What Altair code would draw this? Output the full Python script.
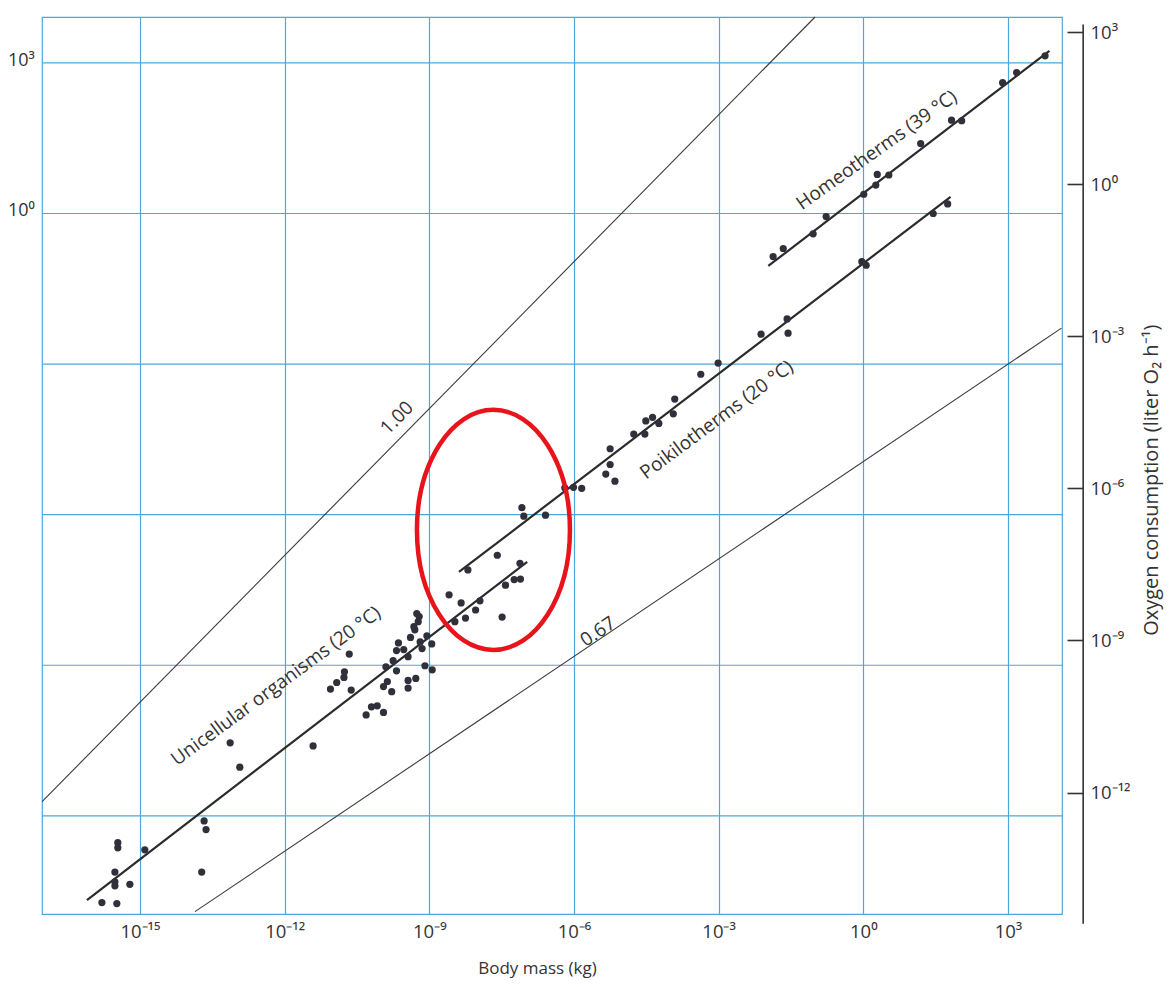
import altair as alt
import pandas as pd

# ---------------- axis ticks (log10 units) ----------------
x_ticks = [-15, -12, -9, -6, -3, 0, 3]
x_tick_labels = ["10⁻¹⁵", "10⁻¹²", "10⁻⁹", "10⁻⁶", "10⁻³", "10⁰", "10³"]
y_ticks = [-12, -9, -6, -3, 0, 3]
y_tick_labels = ["10⁻¹²", "10⁻⁹", "10⁻⁶", "10⁻³", "10⁰", "10³"]

# printed horizontal grid (offset from right-hand scale in the original)
grid_y = [2.39, -0.58, -3.55, -6.52, -9.49, -12.46]
left_labels = ["10³", "10⁰"]
left_label_y = [2.43, -0.53]

# ---------------- observations (log10 kg, log10 liter O2/h) ----------------
uni_mass = [-15.79, -15.48, -15.52, -15.52, -15.52, -15.21, -15.46, -15.46, -14.90, -13.72,
            -13.67, -13.63, -13.13, -12.93, -11.41, -10.66, -10.76, -10.77, -10.92, -11.05,
            -10.62, -9.90, -9.75, -9.68, -9.64, -9.53, -9.44, -9.68, -9.87, -9.95,
            -9.78, -9.44, -9.28, -9.44, -9.26, -9.21, -9.30, -9.39, -9.19, -9.05,
            -9.15, -8.95, -9.09, -8.94, -10.20, -10.08, -10.31, -9.95, -9.23, -9.32,
            -8.59, -8.34, -7.95, -8.04, -8.25, -8.47, -7.42, -7.24, -7.11, -7.12,
            -7.49, -7.59]
uni_o2 = [-14.17, -14.19, -13.57, -13.76, -13.84, -13.81, -12.99, -13.09, -13.13, -13.57,
          -12.56, -12.73, -11.02, -11.50, -11.08, -9.27, -9.62, -9.73, -9.83, -9.96,
          -9.98, -9.52, -9.40, -9.20, -9.05, -9.18, -9.32, -9.60, -9.81, -9.91,
          -10.01, -9.79, -9.75, -9.94, -8.47, -8.53, -8.79, -8.94, -9.03, -8.91,
          -9.16, -9.07, -9.50, -9.58, -10.31, -10.29, -10.47, -10.42, -8.63, -8.73,
          -8.10, -8.26, -8.22, -8.40, -8.56, -8.63, -7.91, -7.80, -7.79, -7.48,
          -8.54, -7.32]

poi_mass = [-8.20, -7.08, -7.04, -6.59, -6.19, -6.01, -5.84, -5.25, -5.25, -5.34,
            -5.15, -4.76, -4.53, -4.51, -4.37, -4.24, -3.94, -3.91, -3.37, -3.01,
            -2.12, -1.58, -1.56, -0.03, 0.06, 1.45, 1.75]
poi_o2 = [-7.61, -6.38, -6.55, -6.53, -5.99, -5.98, -6.00, -5.22, -5.53, -5.72,
          -5.86, -4.93, -4.93, -4.67, -4.60, -4.72, -4.53, -4.24, -3.75, -3.53,
          -2.96, -2.66, -2.94, -1.53, -1.60, -0.58, -0.39]

hom_mass = [-1.87, -1.66, -1.04, -0.77, 0.01, 0.26, 0.29, 0.53, 1.19, 1.83, 2.04, 2.89, 3.18, 3.77]
hom_o2 = [-1.43, -1.27, -0.98, -0.64, -0.20, -0.02, 0.19, 0.18, 0.80, 1.26, 1.25, 2.00, 2.20, 2.53]

# ---------------- fitted regression lines (endpoints) ----------------
fit_names = ["Unicellular", "Unicellular", "Poikilotherms", "Poikilotherms", "Homeotherms", "Homeotherms"]
fit_mass = [-16.10, -6.97, -8.385, 1.81, -1.97, 3.86]
fit_o2 = [-14.12, -7.45, -7.65, -0.25, -1.615, 2.63]

# reference slopes 1.00 and 0.67
ref_names = ["1.00", "1.00", "0.67", "0.67"]
ref_mass = [-17.03, -1.0, -13.86, 4.11]
ref_o2 = [-12.18, 3.296, -14.35, -2.84]

# ---------------- in-plot labels ----------------
lab_text = ["1.00", "0.67", "Unicellular organisms (20 °C)", "Poikilotherms (20 °C)", "Homeotherms (39 °C)"]
lab_mass = [-9.67, -5.50, -12.18, -3.04, 0.28]
lab_o2 = [-4.61, -8.83, -9.90, -4.65, 0.67]
lab_angle = [314.6, 326, 323.7, 323.4, 324.7]

# highlighted region (red ellipse)
ell_mass = [-7.67]
ell_o2 = [-6.82]

# right-hand axis line extent, y-title
axis_line_mass = [4.56]
axis_line_top = [3.15]
axis_line_bottom = [-14.59]
ytitle_text = ["Oxygen consumption (liter O₂ h⁻¹)"]
ytitle_mass = [5.98]
ytitle_o2 = [-5.84]

# ---------------- build ----------------
FONT = "Open Sans"
BLUE = "#4aa8dc"
INK = "#333333"

def label_expr(ticks, labels):
    parts = [f"datum.value == {t} ? '{l}'" for t, l in zip(ticks, labels)]
    return " : ".join(parts) + " : ''"

xscale = alt.Scale(domain=[-17.032, 4.121], nice=False, zero=False)
yscale = alt.Scale(domain=[-14.396, 3.296], nice=False, zero=False)

xaxis = alt.Axis(values=x_ticks, labelExpr=label_expr(x_ticks, x_tick_labels),
                 grid=True, gridColor=BLUE, gridWidth=1.2, gridOpacity=1,
                 ticks=False, domain=False, labelPadding=8, labelFontSize=18.5,
                 labelColor=INK, labelFont=FONT,
                 title="Body mass (kg)", titleFontSize=17, titleFont=FONT,
                 titleFontWeight="normal", titleColor=INK,
                 titleX=495, titleY=54, titleAlign="center", titleBaseline="middle")
yaxis = alt.Axis(orient="right", values=y_ticks, labelExpr=label_expr(y_ticks, y_tick_labels),
                 grid=False, domain=False, ticks=True, tickSize=16, tickWidth=1.6,
                 tickColor=INK, offset=5, labelPadding=7, labelFontSize=18.5,
                 labelColor=INK, labelFont=FONT, labelBaseline="middle", title=None)

def X(f):
    return alt.X(f, type="quantitative", scale=xscale, axis=xaxis)

def Y(f):
    return alt.Y(f, type="quantitative", scale=yscale, axis=yaxis)

grid_df = pd.DataFrame({"gy": grid_y})
hgrid = alt.Chart(grid_df).mark_rule(color=BLUE, strokeWidth=1.2).encode(y=Y("gy"))

ref_df = pd.DataFrame({"name": ref_names, "m": ref_mass, "o": ref_o2})
ref_lines = alt.Chart(ref_df).mark_line(color="#3a3a3a", strokeWidth=1.1).encode(
    x=X("m"), y=Y("o"), detail="name:N")

fit_df = pd.DataFrame({"name": fit_names, "m": fit_mass, "o": fit_o2})
fit_lines = alt.Chart(fit_df).mark_line(color="#2b2b2b", strokeWidth=2.2).encode(
    x=X("m"), y=Y("o"), detail="name:N")

pts_df = pd.DataFrame({
    "m": uni_mass + poi_mass + hom_mass,
    "o": uni_o2 + poi_o2 + hom_o2,
})
points = alt.Chart(pts_df).mark_circle(size=52, color="#30303a", opacity=1).encode(
    x=X("m"), y=Y("o"))

lab_df = pd.DataFrame({"t": lab_text, "m": lab_mass, "o": lab_o2, "a": lab_angle})
labels = alt.Chart(lab_df).mark_text(font=FONT, fontSize=19, color=INK,
                                     align="center", baseline="middle").encode(
    x=X("m"), y=Y("o"), text="t:N", angle=alt.Angle("a:Q", scale=None))

left_df = pd.DataFrame({"t": left_labels, "o": left_label_y, "m": [-17.18] * len(left_labels)})
left_text = alt.Chart(left_df).mark_text(font=FONT, fontSize=18, color=INK,
                                         align="right", baseline="middle").encode(
    x=X("m"), y=Y("o"), text="t:N")

ell_path = ("M 1 0 C 1 0.8666 0.5523 1.569 0 1.569 C -0.5523 1.569 -1 0.8666 -1 0 "
            "C -1 -0.8666 -0.5523 -1.569 0 -1.569 C 0.5523 -1.569 1 -0.8666 1 0 Z")
ell_df = pd.DataFrame({"m": ell_mass, "o": ell_o2})
ellipse = alt.Chart(ell_df).mark_point(shape=ell_path, size=23409, filled=False,
                                       stroke="#e8141c", strokeWidth=4.5, opacity=1).encode(
    x=X("m"), y=Y("o"))

axl_df = pd.DataFrame({"m": axis_line_mass, "top": axis_line_top, "bot": axis_line_bottom})
axis_line = alt.Chart(axl_df).mark_rule(color=INK, strokeWidth=1.6).encode(
    x=X("m"), y=Y("top"), y2="bot")

yt_df = pd.DataFrame({"t": ytitle_text, "m": ytitle_mass, "o": ytitle_o2})
ytitle = alt.Chart(yt_df).mark_text(font=FONT, fontSize=20, color=INK, angle=270,
                                    align="center", baseline="middle").encode(
    x=X("m"), y=Y("o"), text="t:N")

chart = alt.layer(hgrid, ref_lines, fit_lines, points, labels, left_text, ellipse,
                  axis_line, ytitle).properties(
    width=1020, height=897,
    autosize=alt.AutoSizeParams(type="none"),
    padding={"left": 34, "top": 9, "right": 103, "bottom": 65},
    background="white",
).configure_view(stroke=BLUE, strokeWidth=1.2)

chart.save("out.html", embed_options={"renderer": "svg", "actions": False})
